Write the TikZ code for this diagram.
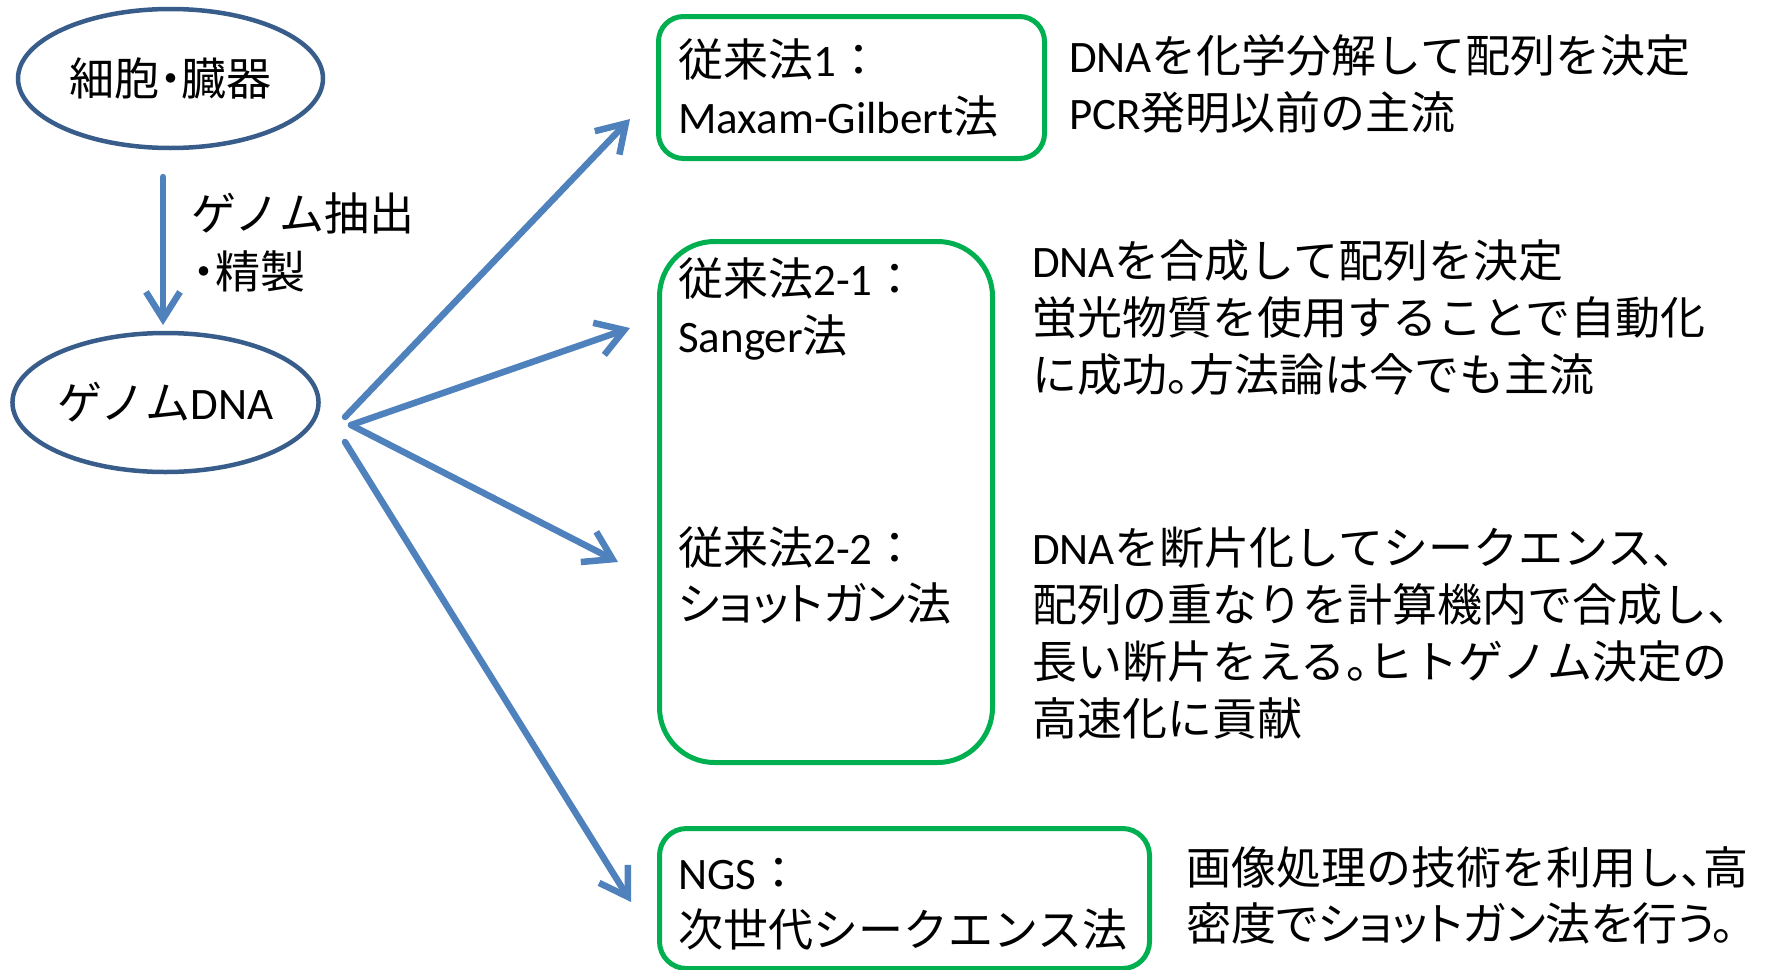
\documentclass[tikz,border=0pt]{standalone}
\usepackage{fontspec}
\setmainfont{Carlito}
\newfontfamily\jp{Noto Sans CJK JP}
\newfontfamily\jpp[RawFeature=+palt]{Noto Sans CJK JP}
\usetikzlibrary{arrows.meta,shapes.geometric}
\definecolor{arrowblue}{HTML}{4F81BD}
\definecolor{ellblue}{HTML}{385D8A}
\definecolor{boxgreen}{HTML}{00B050}
\tikzset{
  oval/.style={ellipse, draw=ellblue, line width=4.5pt, minimum width=305pt,
    minimum height=139pt, inner sep=0pt, font=\jp\fontsize{45}{54}\selectfont},
  flow/.style={draw=arrowblue, line width=6.5pt, line cap=round,
    -{Straight Barb[length=27pt,width=34pt]}},
  gbox/.style={draw=boxgreen, line width=5pt, rounded corners=#1, inner sep=0pt,
    anchor=north west},
  txt/.style={anchor=base west, inner sep=0pt, font=\fontsize{45}{54}\selectfont},
}
\begin{document}
\begin{tikzpicture}[x=1pt,y=-1pt]
\path[use as bounding box] (0,0) rectangle (1782,969);

% ellipses
\node[oval] (cell) at (170.5,78.5) {細胞{\jpp ・}臓器};
\node[oval] (gdna) at (165.5,402.5) {ゲノム{\rmfamily DNA}};

% vertical arrow and its label
\coordinate (vtop) at (163,177);
\coordinate (vbot) at (163,325);
\draw[flow] (vtop) -- (vbot);
\node[txt] (lab1) at (191,230) {\jp ゲノム抽出};
\node[txt] (lab2) at (193,288) {{\jpp ・}{\jp 精製}};

% green boxes
\node[gbox=25pt, minimum width=386pt, minimum height=142pt] (b1) at (656,14) {};
\node[gbox=55pt, minimum width=333pt, minimum height=521pt] (b2) at (657,239) {};
\node[gbox=27pt, minimum width=490pt, minimum height=140pt] (b3) at (657,826) {};

% box texts
\node[txt] (m1) at (678,76) {{\jp 従来法}1{\jp ：}};
\node[txt] (m2) at (678,133) {Maxam-Gilbert{\jp 法}};
\node[txt] (s1) at (678,295) {{\jp 従来法}2-1{\jp ：}};
\node[txt] (s2) at (678,352) {Sanger{\jp 法}};
\node[txt] (g1) at (678,564) {{\jp 従来法}2-2{\jp ：}};
\node[txt] (g2) at (678,620) {\jpp ショットガン法};
\node[txt] (n1) at (678,889) {NGS{\jp ：}};
\node[txt] (n2) at (678,946) {\jp 次世代シークエンス法};

% descriptions
\node[txt] (d11) at (1069,72) {DNA{\jp を化学分解して配列を決定}};
\node[txt] (d12) at (1069,129) {PCR{\jp 発明以前の主流}};

\node[txt] (d21) at (1032,277) {DNA{\jp を合成して配列を決定}};
\node[txt] (d22) at (1032,334) {\jp 蛍光物質を使用することで自動化};
\node[txt] (d23) at (1032,391) {\jp に成功{\jpp 。}方法論は今でも主流};

\node[txt] (d31) at (1032,564) {DNA{\jp を断片化してシークエンス、}};
\node[txt] (d32) at (1032,621) {\jp 配列の重なりを計算機内で合成し、};
\node[txt] (d33) at (1032,678) {\jp 長い断片をえる{\jpp 。}ヒトゲノム決定の};
\node[txt] (d34) at (1032,735) {\jp 高速化に貢献};

\node[txt] (d41) at (1186,884) {\jp 画像処理の技術を利用し{\jpp 、}高};
\node[txt] (d42) at (1186,940) {\jpp 密度でショットガン法を行う。};

% fan of arrows
\coordinate (f1) at (345,417);
\coordinate (f2) at (351,425);
\coordinate (f4) at (345,442);
\coordinate (t1) at (630,119);
\coordinate (t2) at (630,328);
\coordinate (t3) at (618,562);
\coordinate (t4) at (631,902);
\draw[flow] (f1) -- (t1);
\draw[flow] (f2) -- (t2);
\draw[flow] (f2) -- (t3);
\draw[flow] (f4) -- (t4);
\end{tikzpicture}
\end{document}
